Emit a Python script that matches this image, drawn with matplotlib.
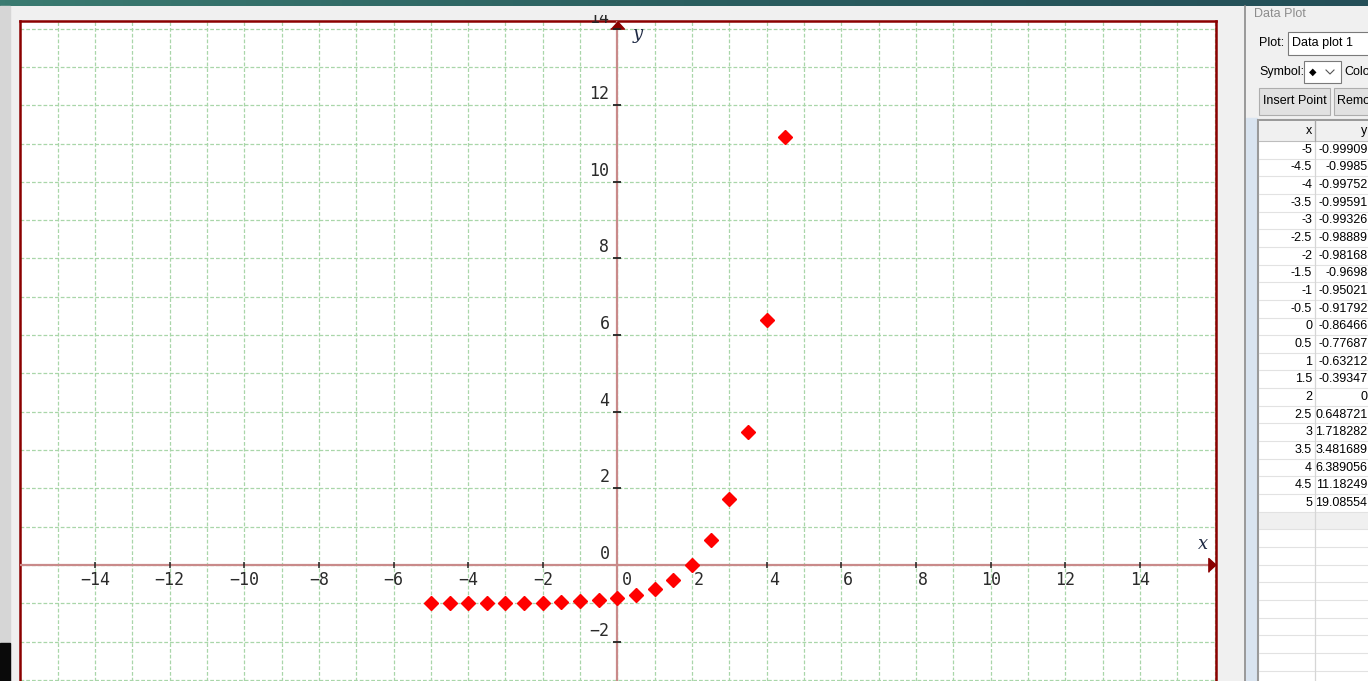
import numpy as np
import matplotlib
matplotlib.use("Agg")
import matplotlib.pyplot as plt
from matplotlib.patches import Rectangle
from matplotlib.colors import LinearSegmentedColormap
from matplotlib.transforms import Bbox

# data (table of the "Data plot 1")
x_vals = [-5, -4.5, -4, -3.5, -3, -2.5, -2, -1.5, -1, -0.5, 0,
          0.5, 1, 1.5, 2, 2.5, 3, 3.5, 4, 4.5, 5]
y_vals = [-0.99909, -0.99850, -0.99752, -0.99591, -0.99326, -0.98889, -0.98168,
          -0.96980, -0.95021, -0.91792, -0.86466, -0.77687, -0.63212, -0.39347,
          0, 0.648721, 1.718282, 3.481689, 6.389056, 11.18249, 19.08554]
x_text = ["-5", "-4.5", "-4", "-3.5", "-3", "-2.5", "-2", "-1.5", "-1", "-0.5", "0",
          "0.5", "1", "1.5", "2", "2.5", "3", "3.5", "4", "4.5", "5"]
y_text = ["-0.99909", "-0.9985", "-0.99752", "-0.99591", "-0.99326", "-0.98889",
          "-0.98168", "-0.9698", "-0.95021", "-0.91792", "-0.86466", "-0.77687",
          "-0.63212", "-0.39347", "0", "0.648721", "1.718282", "3.481689",
          "6.389056", "11.18249", "19.08554"]
x_ticks = [-14, -12, -10, -8, -6, -4, -2, 2, 4, 6, 8, 10, 12, 14]
y_ticks = [-2, 2, 4, 6, 8, 10, 12, 14]

W, H = 1368, 681
fig = plt.figure(figsize=(W / 100, H / 100), dpi=100, facecolor="#f0f0f0")

# background layer in pixel coords (y downwards)
bg = fig.add_axes([0, 0, 1, 1], zorder=0)
bg.set_xlim(0, W)
bg.set_ylim(H, 0)
bg.set_axis_off()

# window title bar
cmap = LinearSegmentedColormap.from_list("bar", ["#3b7b71", "#2b5f60", "#244f58"])
bg.imshow(np.linspace(0, 1, 256)[None, :], cmap=cmap, extent=[0, W, 6, 0], aspect="auto")
bg.add_patch(Rectangle((0, 6), 10, H, color="#d6d6d6"))
bg.add_patch(Rectangle((0, 643), 10, 40, color="#0a0a0a"))

# side panel
bg.plot([1245, 1245], [6, H], color="#8a8a8a", lw=1.2)
bg.add_patch(Rectangle((1246, 118), 11, 600, color="#d9e4f0"))
pfont = dict(family="Liberation Sans", fontsize=9, va="center", color="black")
bg.text(1254, 14, "Data Plot", **{**pfont, "color": "#8c8c8c"})
bg.text(1259, 43, "Plot:", **pfont)
bg.add_patch(Rectangle((1288, 32), 100, 23, facecolor="white", edgecolor="#7a7a7a", lw=0.8))
bg.text(1292, 43, "Data plot 1", **pfont)
bg.text(1259, 72, "Symbol:", **pfont)
bg.add_patch(Rectangle((1304, 61), 37, 22, facecolor="white", edgecolor="#7a7a7a", lw=0.8))
bg.text(1313, 72, "\u25c6", color="black", ha="center", family="DejaVu Sans", fontsize=7, va="center")
bg.plot([1326, 1330, 1334], [70, 74, 70], color="#555555", lw=0.8)
bg.text(1344, 72, "Colo", **pfont)
bg.add_patch(Rectangle((1259, 88), 71, 27, facecolor="#e1e1e1", edgecolor="#adadad", lw=0.8))
bg.text(1294.5, 101, "Insert Point", ha="center", **pfont)
bg.add_patch(Rectangle((1334, 88), 71, 27, facecolor="#e1e1e1", edgecolor="#adadad", lw=0.8))
bg.text(1337, 101, "Remo", **pfont)

# table
row_h = 17.65
top = 141
bg.add_patch(Rectangle((1258, 120), 150, 600, facecolor="white", edgecolor="#9a9a9a", lw=1.5))
bg.add_patch(Rectangle((1259, 121), 150, 20, facecolor="#f0f0f0", edgecolor="none"))
bg.plot([1259, W], [141, 141], color="#bdbdbd", lw=0.8)
bg.text(1312, 131, "x", ha="right", **pfont)
bg.text(1367, 131, "y", ha="right", **pfont)
nrows = len(x_text)
bg.add_patch(Rectangle((1259, top + nrows * row_h), 150, row_h, facecolor="#f0f0f0", edgecolor="none"))
for i in range(40):
    yy = top + (i + 1) * row_h
    if yy > H + 5:
        break
    bg.plot([1259, W], [yy, yy], color="#e2e2e2", lw=0.8)
bg.plot([1315, 1315], [121, H], color="#d6d6d6", lw=0.9)
bg.plot([1315, 1315], [121, 141], color="#a8a8a8", lw=0.9)
for i in range(nrows):
    yc = top + (i + 0.5) * row_h
    bg.text(1312, yc, x_text[i], ha="right", **pfont)
    bg.text(1367.5, yc, y_text[i], ha="right", **pfont)

# plot area
ax = fig.add_axes([20 / W, 0, (1216 - 20) / W, (H - 21) / H], zorder=2)
ax.set_facecolor("white")
ax.set_xlim(-16.01, 16.04)
ax.set_ylim(-3.03, 14.20)
for s in ["left", "top", "right"]:
    ax.spines[s].set_color("#8b0000")
    ax.spines[s].set_linewidth(1.8)
ax.spines["bottom"].set_visible(False)
ax.set_xticks(np.arange(-16, 17))
ax.set_yticks(np.arange(-3, 15))
ax.tick_params(length=0, labelbottom=False, labelleft=False)
ax.grid(True, color="#a9d6a9", lw=0.9, dashes=(3, 1.6))

ax.axhline(0, color="#c98a8a", lw=1.6, zorder=3)
ax.axvline(0, color="#c98a8a", lw=1.6, zorder=3)
ax.plot([16.04], [0], marker=[(-1.1, -1), (-1.1, 1), (0, 0)], ms=11,
        color="#8b0000", clip_on=False, zorder=4)
ax.plot([0], [14.20], marker=[(-1, -1.1), (1, -1.1), (0, 0)], ms=11,
        color="#8b0000", clip_on=False, zorder=4)

ax.plot(x_ticks, [0] * len(x_ticks), ls="none", marker="|", ms=5, mew=1.1,
        color="#222222", zorder=4)
ax.plot([0] * len(y_ticks), y_ticks, ls="none", marker="_", ms=6, mew=1.3,
        color="#222222", zorder=4)

lfont = dict(family="DejaVu Sans Mono", fontsize=12, color="#2a2a2a")
for k in x_ticks + [0]:
    if k == 0:
        dx = 9
    elif 0 < k < 10:
        dx = 7
    else:
        dx = 0
    lab = str(k).replace("-", "\u2212")
    ax.annotate(lab, (k, 0), xytext=(dx, -15), textcoords="offset pixels",
                ha="center", va="center", **lfont)
for k in y_ticks + [0]:
    lab = str(k).replace("-", "\u2212")
    t = ax.annotate(lab, (0, k), xytext=(-8, 11), textcoords="offset pixels",
                    ha="right", va="center", annotation_clip=False, **lfont)
    if k == 14:
        # top label mostly hidden under the window edge
        t.set_clip_box(Bbox([[0, 0], [W, H - 15]]))
        t.set_clip_on(True)

ax.text(0.4, 13.85, "y", family="DejaVu Serif", style="italic", fontsize=13,
        color="#1f2a44", va="center")
ax.text(15.55, 0.55, "x", family="DejaVu Serif", style="italic", fontsize=13,
        color="#1f2a44", va="center")

ax.plot(x_vals, y_vals, ls="none", marker="D", ms=7, color="#ff0000",
        mec="#ff0000", zorder=5)

fig.savefig("out.png", dpi=100, facecolor=fig.get_facecolor())
